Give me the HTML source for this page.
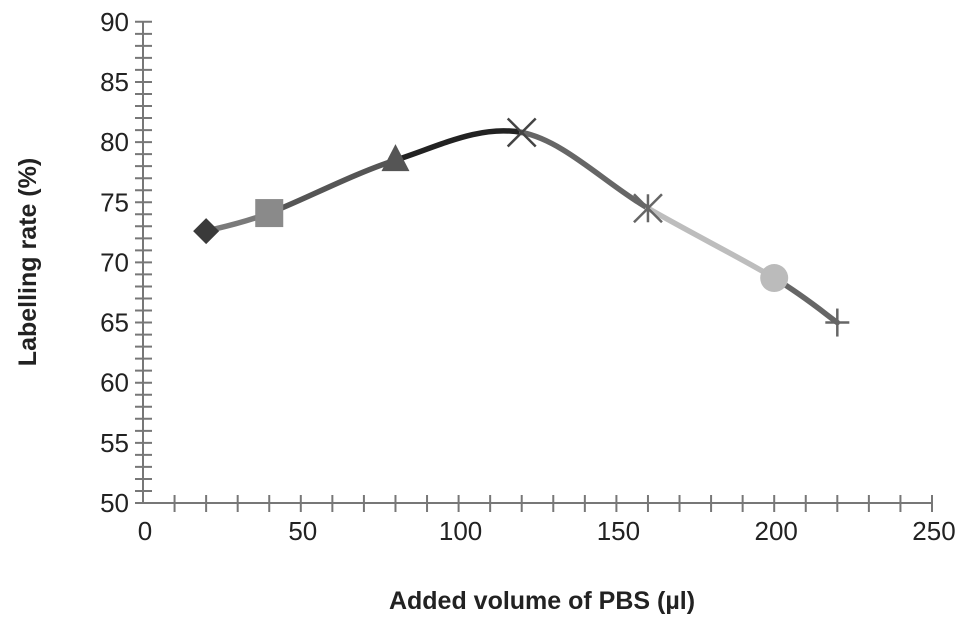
<!DOCTYPE html>
<html><head><meta charset="utf-8"><style>
body{margin:0;background:#fff;}
svg{display:block;font-family:"Liberation Sans",sans-serif;}
</style></head><body>
<svg id="chart" width="969" height="625"></svg>
<script>
const xValues=[20,40,80,120,160,200,220];
const yValues=[72.6,74.1,78.5,80.8,74.5,68.7,65.0];
const xTickLabels=[0,50,100,150,200,250];
const yTickLabels=[50,55,60,65,70,75,80,85,90];
const segColors=['#7a7a7a','#555','#222','#666','#bdbdbd','#666'];
const markerTypes=['diamond','square','triangle','x','star','circle','plus'];
const markerColors=['#3a3a3a','#8a8a8a','#555','#444','#666','#bbb','#666'];

const NS='http://www.w3.org/2000/svg';
const svg=document.getElementById('chart');
const X0=143,XS=3.156,Y0=503,YS=12.03;
const sx=v=>X0+v*XS, sy=v=>Y0-(v-50)*YS;
function el(t,a,p){const e=document.createElementNS(NS,t);for(const k in a)e.setAttribute(k,a[k]);(p||svg).appendChild(e);return e;}

const axes=el('g',{stroke:'#777','stroke-width':2});


el('line',{x1:X0,y1:sy(90),x2:X0,y2:Y0},axes);
el('line',{x1:X0,y1:Y0,x2:sx(250),y2:Y0},axes);
for(let v=50;v<=90;v++){const l=el('line',{x1:X0-8,x2:X0+9,y1:sy(v),y2:sy(v)},axes);

}
for(let v=10;v<=250;v+=10){const l=el('line',{x1:sx(v),x2:sx(v),y1:Y0-8,y2:Y0+9},axes);

}
yTickLabels.forEach(v=>{const t=el('text',{x:X0-14,y:sy(v)+9,'text-anchor':'end','font-size':26,fill:'#222'});t.textContent=v;

});
xTickLabels.forEach(v=>{const t=el('text',{x:sx(v)+2,y:Y0+37,'text-anchor':'middle','font-size':26,fill:'#222'});t.textContent=v;

});
const xt=el('text',{x:542,y:609,'text-anchor':'middle','font-size':25,'font-weight':'bold',fill:'#222'});xt.textContent='Added volume of PBS (µl)';


const yt=el('text',{x:0,y:0,'text-anchor':'middle','font-size':25,'font-weight':'bold',fill:'#222',transform:'translate(36,262) rotate(-90)'});yt.textContent='Labelling rate (%)';



const pts=xValues.map((x,i)=>[sx(x),sy(yValues[i])]);
for(let i=0;i<pts.length-1;i++){
 const p0=pts[Math.max(0,i-1)],p1=pts[i],p2=pts[i+1],p3=pts[Math.min(pts.length-1,i+2)];
 const c1=[p1[0]+(p2[0]-p0[0])/6,p1[1]+(p2[1]-p0[1])/6],c2=[p2[0]-(p3[0]-p1[0])/6,p2[1]-(p3[1]-p1[1])/6];
 const s=el('path',{d:`M${p1[0]},${p1[1]} C${c1[0]},${c1[1]} ${c2[0]},${c2[1]} ${p2[0]},${p2[1]}`,fill:'none',stroke:segColors[i],'stroke-width':5.5,'stroke-linecap':'round'});
 
 
}
pts.forEach(([x,y],i)=>{
 const c=markerColors[i],t=markerTypes[i];let m;
 if(t==='diamond')m=el('polygon',{points:`${x},${y-13} ${x+13},${y} ${x},${y+13} ${x-13},${y}`,fill:c});
 else if(t==='square')m=el('rect',{x:x-14,y:y-14,width:28,height:28,fill:c});
 else if(t==='triangle')m=el('polygon',{points:`${x},${y-16} ${x+14},${y+11} ${x-14},${y+11}`,fill:c});
 else if(t==='circle')m=el('circle',{cx:x,cy:y,r:14,fill:c});
 else{m=el('g',{stroke:c,'stroke-width':2.5});
  if(t==='x'||t==='star'){el('line',{x1:x-14,y1:y-14,x2:x+14,y2:y+14},m);el('line',{x1:x-14,y1:y+14,x2:x+14,y2:y-14},m);}
  if(t==='star'||t==='plus'){el('line',{x1:x,y1:y-14,x2:x,y2:y+14},m);}
  if(t==='plus'){el('line',{x1:x-12,y1:y,x2:x+12,y2:y},m);}
 }
 
 
});
</script>
</body></html>
